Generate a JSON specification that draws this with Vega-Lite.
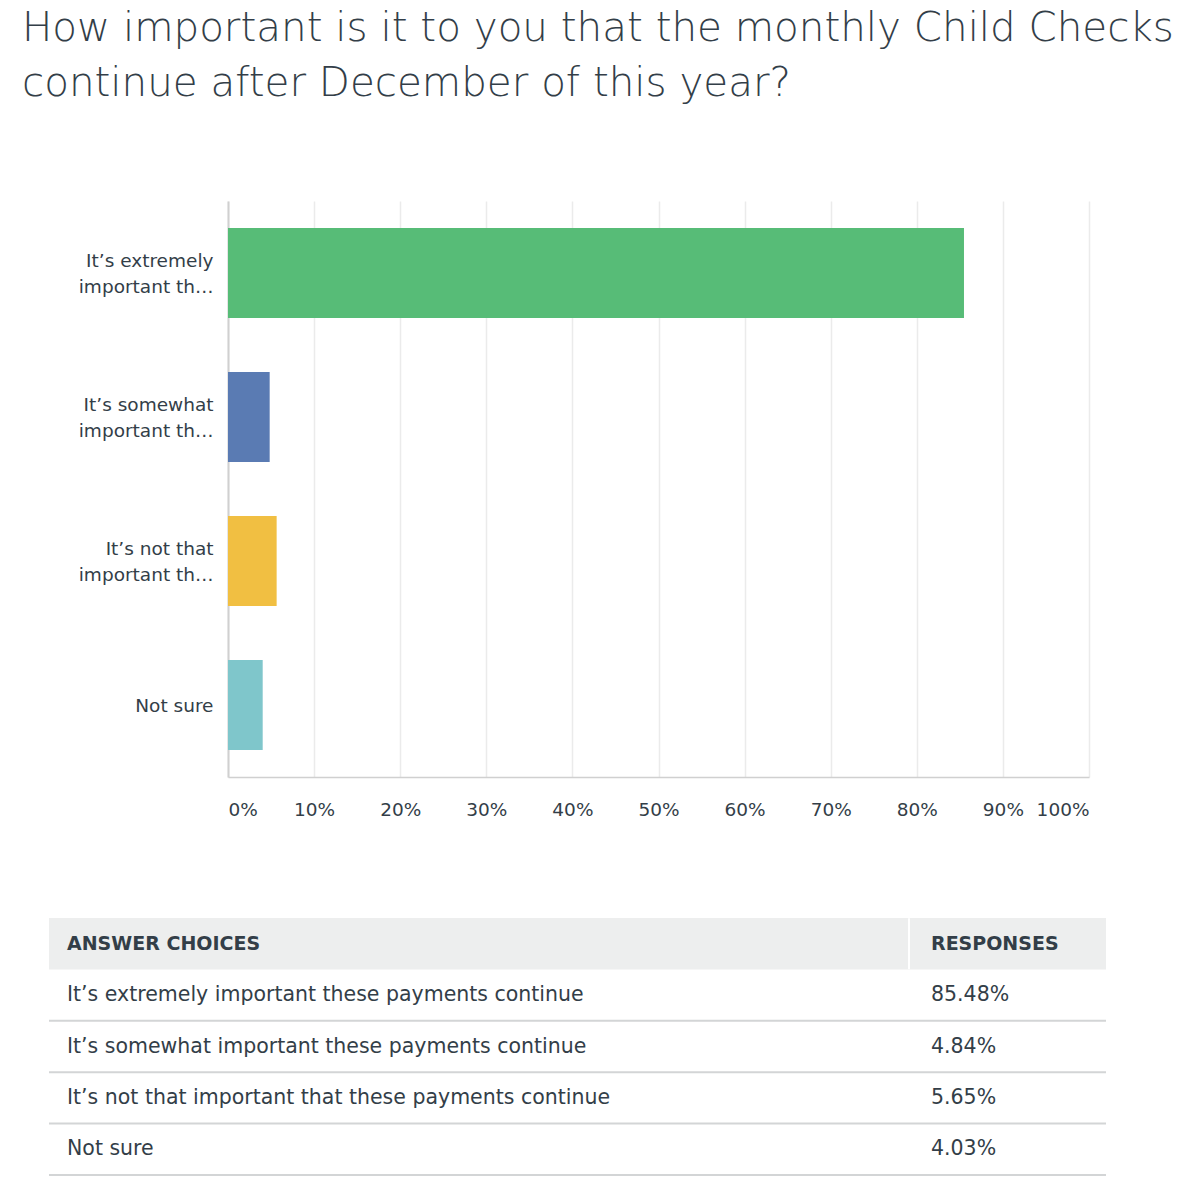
{
  "$schema": "https://vega.github.io/schema/vega-lite/v6.json",
  "background": "white",
  "padding": {"left": 22, "top": 8, "right": 20, "bottom": 3},
  "title": {
    "text": ["How important is it to you that the monthly Child Checks", "continue after December of this year?"],
    "anchor": "start",
    "dx": -26,
    "fontSize": 40.4,
    "lineHeight": 55,
    "font": "DejaVu Sans",
    "fontWeight": 300,
    "color": "#333e48",
    "offset": 97,
    "baseline": "top"
  },
  "datasets": {
    "answers": [
      {"answer": "It’s extremely important these payments continue", "short": "It’s extremely|important th…", "share": 0.8548},
      {"answer": "It’s somewhat important these payments continue", "short": "It’s somewhat|important th…", "share": 0.0484},
      {"answer": "It’s not that important that these payments continue", "short": "It’s not that|important th…", "share": 0.0565},
      {"answer": "Not sure", "short": "Not sure", "share": 0.0403}
    ]
  },
  "config": {"view": {"stroke": null}, "font": "DejaVu Sans", "text": {"color": "#333e48", "font": "DejaVu Sans"}},
  "spacing": 99,
  "vconcat": [
    {
      "width": 1040,
      "height": 576,
      "data": {"name": "answers"},
      "mark": {"type": "bar"},
      "encoding": {
        "y": {
          "field": "short", "type": "nominal", "sort": null,
          "scale": {"paddingInner": 0.375, "paddingOuter": 0.1875},
          "axis": {
            "title": null, "labelExpr": "split(datum.label, '|')", "labelFontSize": 18.5, "labelLineHeight": 26,
            "labelOffset": {"condition": {"test": "datum.value == 'Not sure'", "value": 1}, "value": -12},
            "offset": -179,
            "labelColor": "#333e48", "labelPadding": 15, "ticks": false, "tickSize": 0,
            "domainColor": "#d0d0d0", "domainWidth": 2, "grid": false, "labelFont": "DejaVu Sans", "labelLimit": 200
          }
        },
        "x": {
          "field": "share", "type": "quantitative",
          "scale": {"domain": [0, 1], "nice": false, "range": [179, 1040]},
          "axis": {
            "title": null, "values": [0, 0.1, 0.2, 0.3, 0.4, 0.5, 0.6, 0.7, 0.8, 0.9, 1], "format": "%",
            "labelFlush": true, "grid": true, "gridColor": "#ebebeb", "gridWidth": 1.5,
            "domainColor": "#d0d0d0", "domainWidth": 1.5, "ticks": false, "tickSize": 0,
            "labelPadding": 23, "labelFontSize": 18.5, "labelColor": "#333e48", "labelFont": "DejaVu Sans"
          }
        },
        "color": {
          "field": "short", "type": "nominal", "sort": null,
          "scale": {"range": ["#57bc77", "#5a7bb3", "#f1bf42", "#7fc6cb"]},
          "legend": null
        }
      }
    },
    {
      "width": 1057,
      "height": 257,
      "layer": [
        {
          "data": {"values": [{"row": "header"}]},
          "mark": {"type": "rect", "color": "#edeeee"},
          "encoding": {
            "y": {"field": "row", "type": "nominal", "scale": {"domain": ["header", "It’s extremely important these payments continue", "It’s somewhat important these payments continue", "It’s not that important that these payments continue", "Not sure"], "paddingInner": 0, "paddingOuter": 0}, "axis": null}
          }
        },
        {
          "data": {"values": [{"row": "header", "column": "RESPONSES"}]},
          "mark": {"type": "tick", "orient": "vertical", "color": "white", "size": 51, "thickness": 2, "xOffset": -22, "opacity": 1},
          "encoding": {
            "x": {"field": "column", "type": "nominal", "scale": {"type": "point", "domain": ["ANSWER CHOICES", "RESPONSES"], "range": [18, 882], "padding": 0}, "axis": null},
            "y": {"field": "row", "type": "nominal", "scale": {"domain": ["header", "It’s extremely important these payments continue", "It’s somewhat important these payments continue", "It’s not that important that these payments continue", "Not sure"], "paddingInner": 0, "paddingOuter": 0}, "axis": null}
          }
        },
        {
          "data": {"values": [{"row": "header", "column": "ANSWER CHOICES"}, {"row": "header", "column": "RESPONSES"}]},
          "mark": {"type": "text", "align": "left", "baseline": "middle", "fontWeight": "bold", "fontSize": 19, "color": "#333e48"},
          "encoding": {
            "x": {"field": "column", "type": "nominal", "scale": {"type": "point", "domain": ["ANSWER CHOICES", "RESPONSES"], "range": [18, 882], "padding": 0}, "axis": null},
            "y": {"field": "row", "type": "nominal", "scale": {"domain": ["header", "It’s extremely important these payments continue", "It’s somewhat important these payments continue", "It’s not that important that these payments continue", "Not sure"], "paddingInner": 0, "paddingOuter": 0}, "axis": null},
            "text": {"field": "column"}
          }
        },
        {
          "data": {"name": "answers"},
          "mark": {"type": "rule", "color": "#d3d5d6", "strokeWidth": 2},
          "encoding": {
            "y": {"field": "answer", "type": "nominal", "bandPosition": 1, "scale": {"domain": ["header", "It’s extremely important these payments continue", "It’s somewhat important these payments continue", "It’s not that important that these payments continue", "Not sure"], "paddingInner": 0, "paddingOuter": 0}, "axis": null}
          }
        },
        {
          "data": {"name": "answers"},
          "mark": {"type": "text", "align": "left", "baseline": "middle", "fontSize": 20.5, "color": "#333e48"},
          "encoding": {
            "x": {"datum": "ANSWER CHOICES", "type": "nominal", "scale": {"type": "point", "domain": ["ANSWER CHOICES", "RESPONSES"], "range": [18, 882], "padding": 0}, "axis": null},
            "y": {"field": "answer", "type": "nominal", "scale": {"domain": ["header", "It’s extremely important these payments continue", "It’s somewhat important these payments continue", "It’s not that important that these payments continue", "Not sure"], "paddingInner": 0, "paddingOuter": 0}, "axis": null},
            "text": {"field": "answer"}
          }
        },
        {
          "data": {"name": "answers"},
          "mark": {"type": "text", "align": "left", "baseline": "middle", "fontSize": 20.5, "color": "#333e48"},
          "encoding": {
            "x": {"datum": "RESPONSES", "type": "nominal", "scale": {"type": "point", "domain": ["ANSWER CHOICES", "RESPONSES"], "range": [18, 882], "padding": 0}, "axis": null},
            "y": {"field": "answer", "type": "nominal", "scale": {"domain": ["header", "It’s extremely important these payments continue", "It’s somewhat important these payments continue", "It’s not that important that these payments continue", "Not sure"], "paddingInner": 0, "paddingOuter": 0}, "axis": null},
            "text": {"field": "share", "format": ".2%"}
          }
        }
      ]
    }
  ]
}
